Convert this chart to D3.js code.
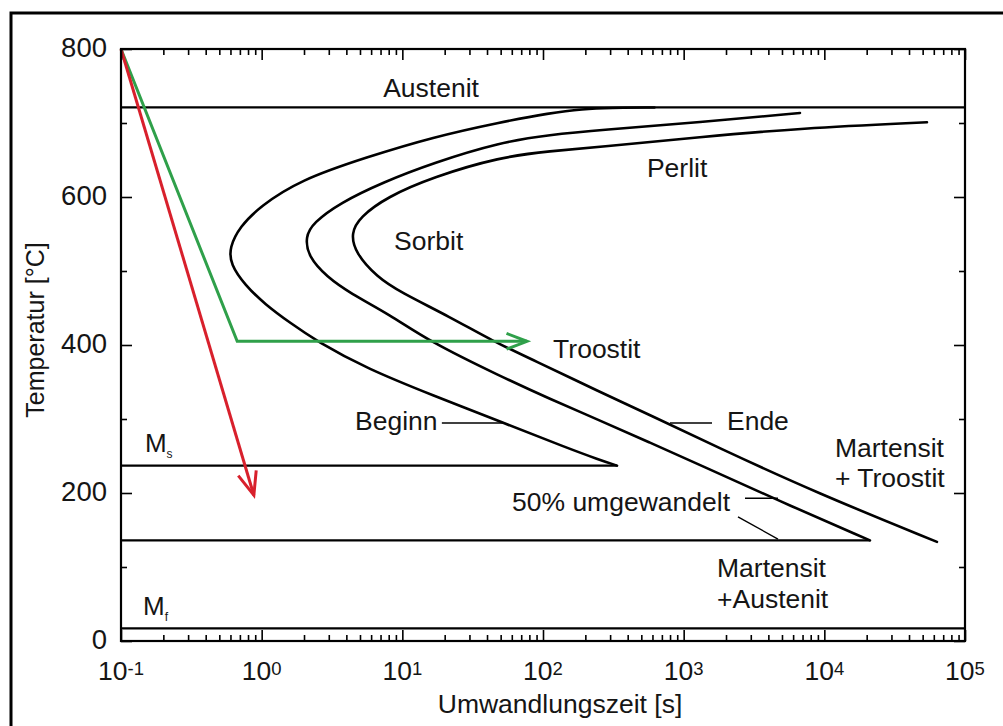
<!DOCTYPE html>
<html><head><meta charset="utf-8">
<script src="https://cdn.jsdelivr.net/npm/d3@7/dist/d3.min.js"></script>
<style>
html,body{margin:0;padding:0;background:#fff;}
svg text{font-family:"Liberation Sans",Arial,Helvetica,sans-serif;fill:#151515;}
</style></head>
<body>
<svg id="c" width="1003" height="726"></svg>
<script>
// ---- data (time in s, temperature in °C) ----
const curveBeginn = [[620,721],[300,720.5],[192,719],[112,713.5],[49.5,701],[16.5,681],[5.6,654],[1.87,623],[0.97,587],[0.70,560],[0.59,532],[0.60,509],[0.761,481],[1.056,455],[1.59,430],[2.47,405],[5.61,368],[16.5,332],[51.9,295],[148,261],[250,245],[336,237]];
const curve50 = [[6714,713.5],[1306,701],[254,690.5],[112,684],[49.5,674],[16.5,646],[7.29,620],[3.60,592],[2.32,565],[2.04,546],[2.15,519],[2.91,492],[4.25,470],[8.17,441],[15.5,405],[49.5,358],[112,327],[254,298],[576,268],[1306,238],[4683,190],[21100,136]];
const curveEnde = [[53660,701],[6714,693],[1306,681],[254,667.6],[112,662],[49.5,654],[16.5,627],[7.78,600],[5.0,573],[4.30,551],[4.65,524],[6.60,492],[9.63,471.6],[21.8,438],[44.1,405],[84.9,380],[254,336.5],[576,305.4],[1726,262],[8866,200],[63200,134]];
const hLines = [ {t0:0.1, t1:1e5, T:721}, {t0:0.1, t1:336, T:237}, {t0:0.1, t1:21100, T:136}, {t0:0.1, t1:1e5, T:17} ];
const greenPath = [[0.1,800],[0.67,405],[77,405]];
const redPath = [[0.1,800],[0.88,197]];
const leaders = [ [[19.1,294.6],[53.7,294.6]], [[799,294.6],[1590,294.6]], [[2729,193],[4683,193]], [[2433,167.6],[4683,137.8]] ];
const labels = [
  {t:16.0, T:735, s:"Austenit", a:"middle"},
  {t:548, T:627, s:"Perlit"},
  {t:8.73, T:528, s:"Sorbit"},
  {t:118, T:382, s:"Troostit"},
  {t:4.61, T:285, s:"Beginn"},
  {t:2032, T:285, s:"Ende"},
  {t:11900, T:248.6, s:"Martensit"},
  {t:11900, T:208, s:"+ Troostit"},
  {t:60.2, T:175.7, s:"50% umgewandelt"},
  {t:1726, T:86.5, s:"Martensit"},
  {t:1726, T:44.6, s:"+Austenit"}
];
const subLabels = [ {t:0.148, T:255, m:"M", sub:"s"}, {t:0.1434, T:35, m:"M", sub:"f"} ];
const xMajor = [-1,0,1,2,3,4,5];
const yMajor = [0,200,400,600,800];
const yMinor = [100,300,500,700];
const xTitle = "Umwandlungszeit [s]";
const yTitle = "Temperatur [°C]";

// ---- layout ----
const svg = d3.select("#c");
const L = 121, R = 965, T = 49, B = 641;
const x = d3.scaleLog().domain([0.1, 1e5]).range([L, R]);
const y = d3.scaleLinear().domain([0, 800]).range([B, T]);

// outer frame
svg.append("rect").attr("x",11).attr("y",13).attr("width",1020).attr("height",740)
  .attr("fill","none").attr("stroke","#000").attr("stroke-width",3);

// horizontal phase lines
svg.selectAll("line.h").data(hLines).join("line").attr("class","h")
  .attr("x1",d=>x(d.t0)).attr("x2",d=>x(d.t1)).attr("y1",d=>y(d.T)).attr("y2",d=>y(d.T))
  .attr("stroke","#000").attr("stroke-width",2.2);

// C-curves
const line = d3.line().x(d=>x(d[0])).y(d=>y(d[1])).curve(d3.curveBasis);
[curveBeginn, curve50, curveEnde].forEach(c=>{
  svg.append("path").attr("d",line(c)).attr("fill","none").attr("stroke","#000")
    .attr("stroke-width",2.6).attr("stroke-linecap","round");
});

// leaders
const lin = d3.line().x(d=>x(d[0])).y(d=>y(d[1]));
leaders.forEach(l=>svg.append("path").attr("d",lin(l)).attr("stroke","#000").attr("stroke-width",1.4).attr("fill","none"));

// cooling paths with arrows
function arrowPath(pts, color, len, ang){
  svg.append("path").attr("d",lin(pts)).attr("fill","none").attr("stroke",color)
     .attr("stroke-width",3).attr("stroke-linejoin","miter");
  const p2 = [x(pts[pts.length-1][0]), y(pts[pts.length-1][1])];
  const p1 = [x(pts[pts.length-2][0]), y(pts[pts.length-2][1])];
  const a = Math.atan2(p1[1]-p2[1], p1[0]-p2[0]);
  const r = ang*Math.PI/180;
  const b1 = [p2[0]+len*Math.cos(a+r), p2[1]+len*Math.sin(a+r)];
  const b2 = [p2[0]+len*Math.cos(a-r), p2[1]+len*Math.sin(a-r)];
  svg.append("path").attr("d",d3.line()([b1,p2,b2])).attr("fill","none").attr("stroke",color)
     .attr("stroke-width",3).attr("stroke-linejoin","miter");
}
arrowPath(greenPath, "#2fa04a", 22, 21);
arrowPath(redPath, "#d8202c", 25, 22);

// labels
svg.selectAll("text.lab").data(labels).join("text").attr("class","lab")
  .attr("x",d=>x(d.t)).attr("y",d=>y(d.T)).attr("text-anchor",d=>d.a||"start")
  .attr("font-size",26.5).text(d=>d.s);
subLabels.forEach(d=>{
  const t = svg.append("text").attr("x",x(d.t)).attr("y",y(d.T)).attr("font-size",26);
  t.append("tspan").text(d.m);
  t.append("tspan").attr("font-size",12).attr("dy",6).text(d.sub);
});

// axes
const minorX = [];
for(let e=-1;e<5;e++) for(let k=2;k<=9;k++) minorX.push(k*Math.pow(10,e));
const majorX = xMajor.map(e=>Math.pow(10,e));
function tickGroup(axisFn, scale, vals, size, tr){
  svg.append("g").attr("transform",tr)
    .call(axisFn(scale).tickValues(vals).tickSize(-size).tickSizeOuter(0).tickFormat(""))
    .call(g=>{g.select(".domain").remove(); g.selectAll("line").attr("stroke","#000").attr("stroke-width",1.6);});
}
tickGroup(d3.axisBottom, x, majorX, 11, `translate(0,${B})`);
tickGroup(d3.axisBottom, x, minorX, 6, `translate(0,${B})`);
tickGroup(d3.axisTop, x, majorX, 11, `translate(0,${T})`);
tickGroup(d3.axisTop, x, minorX, 6, `translate(0,${T})`);
tickGroup(d3.axisLeft, y, yMajor, 11, `translate(${L},0)`);
tickGroup(d3.axisLeft, y, yMinor, 6, `translate(${L},0)`);
tickGroup(d3.axisRight, y, yMajor, 11, `translate(${R},0)`);
tickGroup(d3.axisRight, y, yMinor, 6, `translate(${R},0)`);

// plot frame
svg.append("rect").attr("x",L).attr("y",T).attr("width",R-L).attr("height",B-T)
  .attr("fill","none").attr("stroke","#000").attr("stroke-width",2.2);

// y tick labels
svg.selectAll("text.yt").data(yMajor).join("text").attr("class","yt")
  .attr("x",L-14).attr("y",d=>y(d)+8).attr("text-anchor","end").attr("font-size",27.5).text(d=>d);

// x tick labels 10^e
xMajor.forEach(e=>{
  const t = svg.append("text").attr("x",x(Math.pow(10,e))).attr("y",680).attr("text-anchor","middle").attr("font-size",26.5);
  t.append("tspan").text("10");
  t.append("tspan").attr("font-size",18.5).attr("dy",-5).text(e<0?"-"+Math.abs(e):String(e));
});

// axis titles
svg.append("text").attr("x",560).attr("y",713).attr("text-anchor","middle").attr("font-size",26.5).text(xTitle);
svg.append("text").attr("transform","translate(44,330) rotate(-90)").attr("text-anchor","middle").attr("font-size",25).text(yTitle);
</script>
</body></html>
